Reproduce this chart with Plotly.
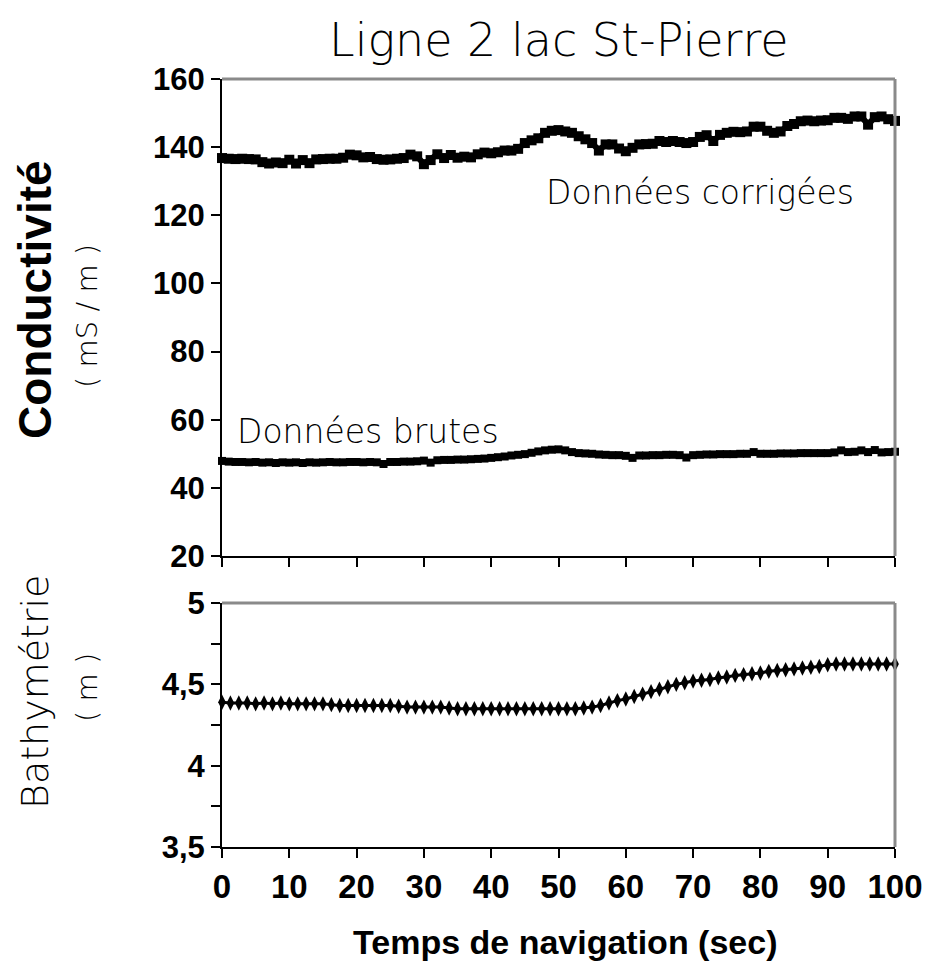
import plotly.graph_objects as go

# ---------------- data ----------------
time_cond = list(range(0, 101))  # seconds, 1 s sampling

cond_corrigee = [
    136.8, 136.6, 136.5, 136.6, 136.5, 136.4, 135.6, 135.2, 135.5, 135.3,
    136.3, 135.2, 136.2, 135.3, 136.4, 136.5, 136.6, 136.6, 136.9, 137.8,
    137.6, 137.0, 137.1, 136.5, 136.3, 136.4, 136.6, 136.8, 137.8, 137.3,
    135.0, 136.2, 137.9, 136.8, 137.7, 136.9, 137.2, 137.0, 137.9, 138.4,
    138.2, 138.5, 139.0, 139.0, 139.5, 141.2, 142.0, 142.6, 144.2, 144.8,
    145.0, 144.6, 144.2, 143.2, 142.3, 141.2, 139.0, 140.8, 140.8, 139.6,
    138.8, 139.8, 140.8, 140.9, 141.0, 141.8, 141.5, 141.8, 141.5, 141.2,
    141.5, 143.0, 143.5, 141.8, 143.6, 144.2, 144.5, 144.4, 144.6, 146.0,
    146.0, 144.8, 144.2, 144.6, 146.2, 146.8, 147.6, 147.8, 147.6, 147.8,
    147.9, 148.6, 148.6, 148.3, 149.0, 149.0, 146.6, 148.8, 149.0, 148.2,
    147.7,
]

cond_brute = [
    47.9, 47.7, 47.6, 47.6, 47.5, 47.6, 47.4, 47.5, 47.3, 47.5,
    47.4, 47.5, 47.3, 47.5, 47.4, 47.5, 47.6, 47.5, 47.5, 47.6,
    47.6, 47.5, 47.6, 47.5, 47.0, 47.6, 47.6, 47.7, 47.7, 47.8,
    48.0, 47.4, 48.1, 48.2, 48.2, 48.3, 48.3, 48.4, 48.5, 48.6,
    48.8, 49.0, 49.2, 49.5, 49.7, 49.9, 50.3, 50.7, 51.0, 51.2,
    51.3, 51.0, 50.5, 50.2, 50.1, 50.0, 49.8, 49.7, 49.6, 49.6,
    49.4, 48.8, 49.5, 49.5, 49.6, 49.6, 49.7, 49.7, 49.6, 48.9,
    49.6, 49.7, 49.8, 49.8, 49.9, 49.9, 49.9, 50.0, 50.0, 50.5,
    50.0, 50.0, 50.0, 50.1, 50.1, 50.1, 50.2, 50.2, 50.2, 50.2,
    50.2, 50.4, 51.0, 50.5, 50.6, 51.0, 50.5, 51.1, 50.4, 50.5,
    50.6,
]

time_bathy = [i * 1.25 for i in range(81)]  # seconds
bathymetrie = [
    4.39, 4.385, 4.385, 4.385, 4.38, 4.385, 4.38, 4.385, 4.38, 4.38,
    4.38, 4.38, 4.38, 4.375, 4.37, 4.37, 4.37, 4.37, 4.37, 4.37,
    4.37, 4.365, 4.36, 4.36, 4.36, 4.36, 4.36, 4.355, 4.35, 4.35,
    4.35, 4.35, 4.35, 4.35, 4.35, 4.35, 4.35, 4.35, 4.35, 4.35,
    4.35, 4.35, 4.35, 4.355, 4.36, 4.37, 4.385, 4.40, 4.41, 4.425,
    4.44, 4.455, 4.47, 4.485, 4.50, 4.51, 4.52, 4.525, 4.53, 4.54,
    4.545, 4.555, 4.56, 4.565, 4.57, 4.58, 4.585, 4.59, 4.595, 4.60,
    4.605, 4.61, 4.62, 4.625, 4.625, 4.625, 4.625, 4.625, 4.625, 4.625,
    4.625,
]

x_ticks = [0, 10, 20, 30, 40, 50, 60, 70, 80, 90, 100]
cond_ticks = [20, 40, 60, 80, 100, 120, 140, 160]
bathy_tickvals = [3.5, 3.75, 4.0, 4.25, 4.5, 4.75, 5.0]
bathy_ticktext = ["3,5", "", "4", "", "4,5", "", "5"]

title_text = "Ligne 2 lac St-Pierre"
label_corrigees = "Données corrigées"
label_brutes = "Données brutes"
ytitle_cond = "Conductivité"
yunit_cond = "( mS / m )"
ytitle_bathy = "Bathymétrie"
yunit_bathy = "( m )"
xtitle = "Temps de navigation (sec)"

# ---------------- figure ----------------
BOLD = "Liberation Sans, Arial, sans-serif"
LIGHT = "DejaVu Sans, sans-serif"

# page body has an 8 px margin: figure occupies 8..938 x 8..963 of the window
fig = go.Figure()

fig.add_trace(go.Scatter(
    x=time_cond, y=cond_corrigee, mode="lines+markers",
    line=dict(color="black", width=6),
    marker=dict(symbol="square", size=10, color="black"),
    cliponaxis=False, xaxis="x", yaxis="y", showlegend=False,
))
fig.add_trace(go.Scatter(
    x=time_cond, y=cond_brute, mode="lines+markers",
    line=dict(color="black", width=5),
    marker=dict(symbol="square", size=8, color="black"),
    cliponaxis=False, xaxis="x", yaxis="y", showlegend=False,
))
fig.add_trace(go.Scatter(
    x=time_bathy, y=bathymetrie, mode="lines+markers",
    line=dict(color="black", width=3),
    marker=dict(symbol="diamond-tall", size=11, color="black"),
    cliponaxis=False, xaxis="x2", yaxis="y2", showlegend=False,
))

axis_common = dict(
    showgrid=False, zeroline=False, showline=True, linecolor="black",
    linewidth=2, ticks="outside", ticklen=9, tickwidth=2, tickcolor="black",
)

fig.update_layout(
    width=930, height=955,
    paper_bgcolor="white", plot_bgcolor="white",
    margin=dict(l=214, r=43, t=71, b=116),
    xaxis=dict(domain=[0, 1], range=[0, 100], tickvals=x_ticks,
               showticklabels=False, anchor="y", **axis_common),
    yaxis=dict(domain=[0.3789, 1], range=[20, 160], tickvals=cond_ticks,
               anchor="x", tickfont=dict(family=BOLD, size=31, color="black", weight="bold"),
               **axis_common),
    xaxis2=dict(domain=[0, 1], range=[0, 100], tickvals=x_ticks, anchor="y2",
                tickfont=dict(family=BOLD, size=33, color="black", weight="bold"),
                **axis_common),
    yaxis2=dict(domain=[0, 0.3177], range=[3.5, 5], tickvals=bathy_tickvals,
                ticktext=bathy_ticktext, anchor="x2",
                tickfont=dict(family=BOLD, size=31, color="black", weight="bold"),
                **axis_common),
)

# grey top / right frame lines
for xr, yr in (("x domain", "y domain"), ("x2 domain", "y2 domain")):
    fig.add_shape(type="line", xref=xr, yref=yr, x0=0, x1=1, y0=1, y1=1,
                  line=dict(color="#8a8a8a", width=3))
    fig.add_shape(type="line", xref=xr, yref=yr, x0=1, x1=1, y0=0, y1=1,
                  line=dict(color="#8a8a8a", width=3))

annots = [
    dict(text=title_text, xref="paper", yref="paper", x=0.5, y=(847 - 40) / 768,
         font=dict(family=LIGHT, size=46, color="black", weight=200)),
    dict(text=label_corrigees, xref="x", yref="y", x=71, y=126.8,
         font=dict(family=LIGHT, size=33, color="black", weight=200)),
    dict(text=label_brutes, xref="x", yref="y", x=21.7, y=56.5,
         font=dict(family=LIGHT, size=33, color="black", weight=200)),
    dict(text=ytitle_cond, xref="paper", yref="paper", x=(35 - 222) / 673,
         y=(847 - 300) / 768, textangle=-90,
         font=dict(family=BOLD, size=46, color="black", weight="bold")),
    dict(text=yunit_cond, xref="paper", yref="paper", x=(87 - 222) / 673,
         y=(847 - 316) / 768, textangle=-90,
         font=dict(family=LIGHT, size=29, color="black", weight=200)),
    dict(text=ytitle_bathy, xref="paper", yref="paper", x=(35 - 222) / 673,
         y=(847 - 692) / 768, textangle=-90,
         font=dict(family=LIGHT, size=38, color="black", weight=200)),
    dict(text=yunit_bathy, xref="paper", yref="paper", x=(87 - 222) / 673,
         y=(847 - 688) / 768, textangle=-90,
         font=dict(family=LIGHT, size=29, color="black", weight=200)),
    dict(text=xtitle, xref="paper", yref="paper", x=(565 - 222) / 673,
         y=(847 - 942) / 768,
         font=dict(family=BOLD, size=34, color="black", weight="bold")),
]
for a in annots:
    fig.add_annotation(showarrow=False, xanchor="center", yanchor="middle", **a)

fig.write_html("out.html")
